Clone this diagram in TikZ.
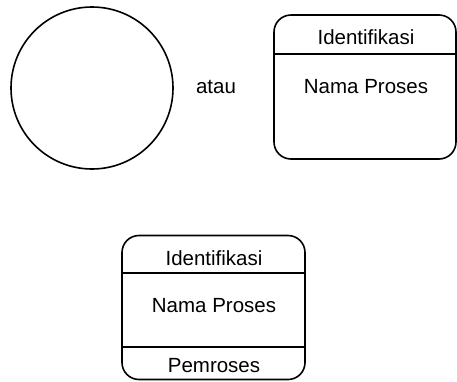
\documentclass[tikz,border=0pt]{standalone}
\usepackage{fontspec}
\setmainfont{Liberation Sans}
\usetikzlibrary{positioning}

\begin{document}
\begin{tikzpicture}[
  x=1pt, y=-1pt,
  font=\fontsize{20.5}{24}\selectfont,
  lw/.style={line width=1.6pt, draw=black},
  bubble/.style={lw, circle, minimum size=162pt, inner sep=0pt},
  proc/.style={lw, rectangle, rounded corners=17pt, inner sep=0pt},
  lbl/.style={inner sep=0pt, anchor=base},
]
\useasboundingbox (0,0) rectangle (457,381);
% ---------------- top row: circle or process box ----------------
\node[bubble] (circ) at (92,88) {};
\node[lbl] (atau) at (216,93) {atau};
\node[proc, minimum width=182pt, minimum height=144pt] (p1) at (365,87) {};
\coordinate (p1div) at (365,54);
\draw[lw] (p1.west |- p1div) -- (p1.east |- p1div);
\node[lbl] (p1id) at (366,44) {Identifikasi};
\node[lbl] (p1nm) at (366,93) {Nama Proses};
% ---------------- bottom: process box with processor ----------------
\node[proc, minimum width=183pt, minimum height=144pt] (p2) at (213.5,307.5) {};
\coordinate (p2diva) at (213,273);
\coordinate (p2divb) at (213,347);
\draw[lw] (p2.west |- p2diva) -- (p2.east |- p2diva);
\draw[lw] (p2.west |- p2divb) -- (p2.east |- p2divb);
\node[lbl] (p2id) at (214,265) {Identifikasi};
\node[lbl] (p2nm) at (214,312) {Nama Proses};
\node[lbl] (p2pr) at (214,372) {Pemroses};
\end{tikzpicture}
\end{document}
